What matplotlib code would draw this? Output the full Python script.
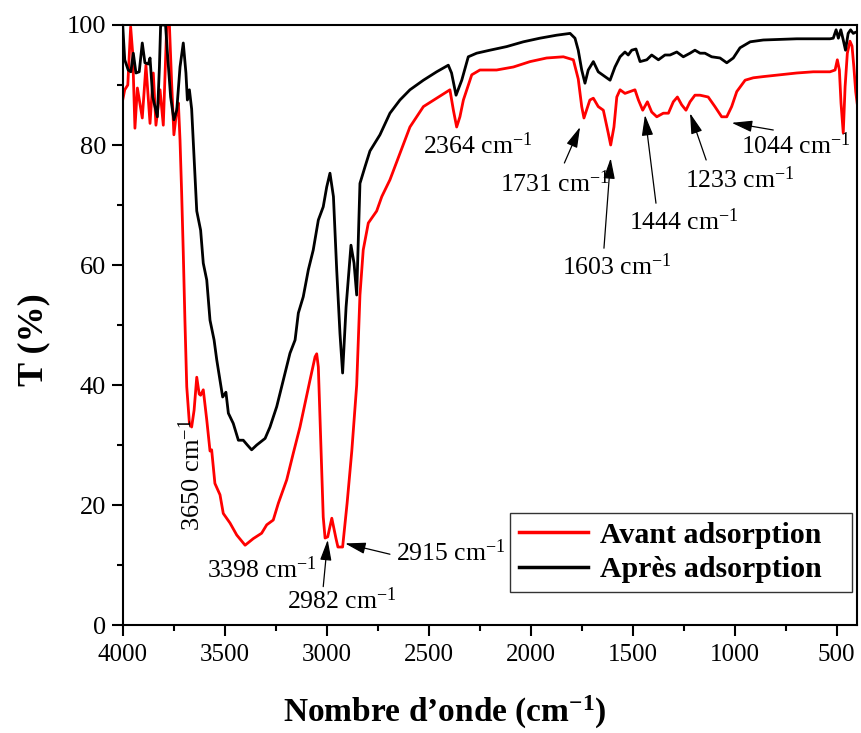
import matplotlib
matplotlib.use("Agg")
import matplotlib.pyplot as plt
from matplotlib.ticker import MultipleLocator

plt.rcParams['font.family'] = ['Liberation Serif', 'DejaVu Serif']
plt.rcParams['mathtext.fontset'] = 'custom'
plt.rcParams['mathtext.rm'] = 'Liberation Serif'
plt.rcParams['mathtext.bf'] = 'Liberation Serif:bold'
plt.rcParams['mathtext.it'] = 'Liberation Serif:italic'

# ---- data: "Avant adsorption" (red) ----
wn_avant = [4000, 3990, 3975, 3961, 3951, 3940, 3928, 3904, 3886, 3866, 3850, 3837, 3817, 3801,
            3784, 3771, 3760, 3749, 3735, 3727, 3719, 3711, 3703, 3695, 3686, 3673, 3662, 3650,
            3637, 3625, 3618, 3605, 3588, 3572, 3564, 3548, 3523, 3507, 3474, 3441, 3400, 3360,
            3319, 3294, 3262, 3237, 3196, 3164, 3131, 3106, 3082, 3057, 3049, 3041, 3033, 3025,
            3017, 3008, 2995, 2975, 2955, 2945, 2922, 2900, 2877, 2853, 2837, 2821, 2796, 2755,
            2730, 2690, 2641, 2592, 2526, 2461, 2396, 2379, 2363, 2347, 2330, 2289, 2249, 2167,
            2085, 2003, 1922, 1840, 1791, 1767, 1750, 1739, 1710, 1693, 1669, 1644, 1620, 1608,
            1592, 1578, 1562, 1538, 1513, 1489, 1472, 1451, 1428, 1407, 1382, 1350, 1325, 1301,
            1281, 1260, 1239, 1219, 1195, 1170, 1130, 1097, 1064, 1039, 1015, 990, 949, 909,
            860, 778, 696, 615, 533, 508, 497, 487, 479, 468, 459, 448, 435, 425, 416, 407, 400]
T_avant = [87.5, 89.2, 90.0, 99.7, 95.3, 82.8, 89.5, 84.5, 93.3, 83.6, 92.0, 83.3, 89.2, 83.3,
           100.0, 100.0, 90.3, 81.7, 85.8, 87.0, 80.8, 72.0, 62.0, 50.8, 39.7, 33.6, 33.0, 35.8,
           41.3, 38.5, 38.3, 39.2, 34.2, 29.0, 29.2, 23.6, 21.7, 18.6, 17.0, 15.0, 13.3, 14.4,
           15.3, 16.7, 17.5, 20.3, 24.2, 28.6, 33.0, 37.0, 40.8, 44.7, 45.2, 43.0, 34.7, 26.4,
           18.0, 14.5, 14.7, 17.8, 14.5, 13.0, 13.0, 20.3, 29.0, 40.0, 55.0, 62.5, 67.0, 69.0,
           71.4, 74.2, 78.6, 83.0, 86.4, 87.8, 89.2, 85.8, 83.0, 84.7, 87.5, 91.7, 92.5, 92.5,
           93.0, 93.9, 94.5, 94.7, 94.2, 91.0, 86.4, 84.5, 87.5, 87.8, 86.4, 85.8, 82.0, 80.0,
           83.0, 88.0, 89.2, 88.6, 88.9, 89.2, 87.5, 85.8, 87.2, 85.5, 84.7, 85.3, 85.3, 87.2,
           88.0, 86.7, 85.8, 87.2, 88.3, 88.3, 88.0, 86.4, 84.7, 84.7, 86.4, 88.9, 90.8, 91.2,
           91.4, 91.7, 92.0, 92.2, 92.2, 92.5, 94.2, 92.5, 87.0, 82.0, 89.7, 95.3, 97.3, 96.5, 93.0, 88.9, 87.0]

# ---- data: "Après adsorption" (black) ----
wn_apres = [4000, 3990, 3973, 3960, 3948, 3935, 3919, 3904, 3891, 3874, 3866, 3853, 3830, 3820,
            3814, 3790, 3780, 3765, 3749, 3735, 3719, 3703, 3690, 3683, 3673, 3662, 3650, 3637,
            3618, 3605, 3588, 3572, 3552, 3539, 3523, 3510, 3494, 3482, 3458, 3433, 3409, 3389,
            3368, 3343, 3302, 3278, 3245, 3213, 3180, 3155, 3139, 3115, 3090, 3066, 3041, 3017,
            3000, 2984, 2967, 2951, 2935, 2922, 2905, 2881, 2866, 2853, 2837, 2812, 2788, 2739,
            2690, 2641, 2592, 2526, 2461, 2404, 2388, 2366, 2338, 2306, 2265, 2200, 2118, 2036,
            1955, 1873, 1807, 1783, 1767, 1750, 1734, 1718, 1693, 1669, 1636, 1611, 1587, 1562,
            1538, 1522, 1505, 1484, 1464, 1431, 1407, 1374, 1342, 1317, 1284, 1252, 1219, 1195,
            1170, 1146, 1113, 1072, 1039, 1007, 974, 924, 860, 696, 533, 517, 503, 492, 480,
            468, 457, 444, 432, 419, 407, 400]
T_apres = [100.0, 94.2, 92.5, 92.2, 95.3, 92.0, 92.2, 97.0, 93.7, 93.5, 94.5, 88.0, 84.7, 93.0,
           100.0, 100.0, 95.0, 88.0, 84.2, 85.8, 93.0, 97.0, 92.0, 87.5, 89.2, 86.0, 78.0, 69.0,
           65.8, 60.3, 57.5, 50.8, 47.5, 44.2, 40.8, 38.0, 38.8, 35.3, 33.6, 30.8, 30.8, 30.0,
           29.2, 30.0, 31.1, 33.0, 36.4, 40.8, 45.3, 47.5, 52.0, 54.7, 59.2, 62.5, 67.5, 69.7,
           73.0, 75.3, 71.4, 59.2, 48.6, 42.0, 53.0, 63.3, 60.3, 55.0, 73.6, 76.4, 79.0, 81.7,
           85.3, 87.5, 89.2, 90.8, 92.2, 93.3, 92.0, 88.3, 90.8, 94.7, 95.3, 95.8, 96.4, 97.2,
           97.8, 98.3, 98.6, 97.8, 95.8, 92.5, 90.3, 92.5, 93.9, 92.2, 91.4, 90.8, 93.0, 94.7,
           95.5, 95.0, 95.8, 96.0, 93.9, 94.2, 95.0, 94.2, 95.0, 95.0, 95.5, 94.7, 95.3, 95.8,
           95.3, 95.3, 94.7, 94.5, 93.7, 94.5, 96.2, 97.2, 97.5, 97.7, 97.7, 97.8, 99.2, 97.8, 99.2,
           97.5, 95.8, 98.6, 99.2, 98.6, 98.8, 98.8]

series_labels = ["Avant adsorption", "Après adsorption"]
series_colors = ["#ff0000", "#000000"]

# peak annotations: label, text anchor (wn, T), arrow tail, arrow head (None = no arrow)
peak_labels = ["3398", "2982", "2915", "2364", "1731", "1603", "1444", "1233", "1044"]
peak_text_pos = [(3587, 7.8), (3196, 2.7), (2660, 10.7), (2526, 78.5), (2150, 72.2),
                 (1848, 58.3), (1517, 65.8), (1244, 72.8), (971, 78.6)]
peak_arrow_tail = [None, (3017, 6.4), (2690, 11.8), None, (1835, 77.0),
                   (1641, 62.8), (1386, 70.3), (1140, 77.5), (811, 82.5)]
peak_arrow_head = [None, (2995, 14.2), (2910, 13.6), None, (1758, 83.0),
                   (1608, 77.8), (1440, 85.0), (1219, 85.3), (1015, 83.7)]

fig = plt.figure(figsize=(8.61, 7.33), dpi=100)
ax = fig.add_axes([0.1425, 0.1473, 0.853, 0.8186])

ax.plot(wn_avant, T_avant, color=series_colors[0], lw=2.0, label=series_labels[0])
ax.plot(wn_apres, T_apres, color=series_colors[1], lw=2.0, label=series_labels[1])

ax.set_xlim(4000, 400)
ax.set_ylim(0, 100)
ax.xaxis.set_major_locator(MultipleLocator(500))
ax.xaxis.set_minor_locator(MultipleLocator(250))
ax.yaxis.set_major_locator(MultipleLocator(20))
ax.yaxis.set_minor_locator(MultipleLocator(10))
ax.tick_params(which='major', direction='out', length=8, width=1.5)
ax.tick_params(which='minor', direction='out', length=4, width=1.5)
ax.tick_params(axis='x', labelsize=18, pad=6)
ax.tick_params(axis='y', labelsize=19, pad=4)
for s in ax.spines.values():
    s.set_linewidth(1.5)

ax.set_xlabel("Nombre d’onde ($\\mathbf{cm^{-1}}$)", fontsize=24, fontweight='bold')
ax.xaxis.set_label_coords(0.439, -0.115)
ax.set_ylabel("T (%)", fontsize=26, fontweight='bold')
ax.yaxis.set_label_coords(-0.099, 0.475)

# rotated 3650 label
ax.text(3620, 15.6, "3650 cm$^{-1}$", rotation=90, rotation_mode='anchor',
        ha='left', va='baseline', fontsize=19)

for lab, tp, tail, head in zip(peak_labels, peak_text_pos, peak_arrow_tail, peak_arrow_head):
    ax.text(tp[0], tp[1], lab + " cm$^{-1}$", ha='left', va='baseline', fontsize=18.5)
    if tail is not None:
        ax.annotate("", xy=head, xytext=tail,
                    arrowprops=dict(arrowstyle='-|>,head_length=0.9,head_width=0.25',
                                    color='black', lw=0.9, mutation_scale=14,
                                    shrinkA=0, shrinkB=0))

leg = ax.legend(loc='lower left', bbox_to_anchor=(0.5275, 0.055, 0.4655, 0.13),
                mode='expand', borderaxespad=0,
                prop={'size': 21.5, 'weight': 'bold'}, frameon=True, fancybox=False,
                edgecolor='black', handlelength=2.3, handletextpad=0.4,
                borderpad=0.3, labelspacing=0.25)
leg.get_frame().set_linewidth(1.0)
for l in leg.get_lines():
    l.set_linewidth(2.5)

fig.savefig("out.png", dpi=100)
